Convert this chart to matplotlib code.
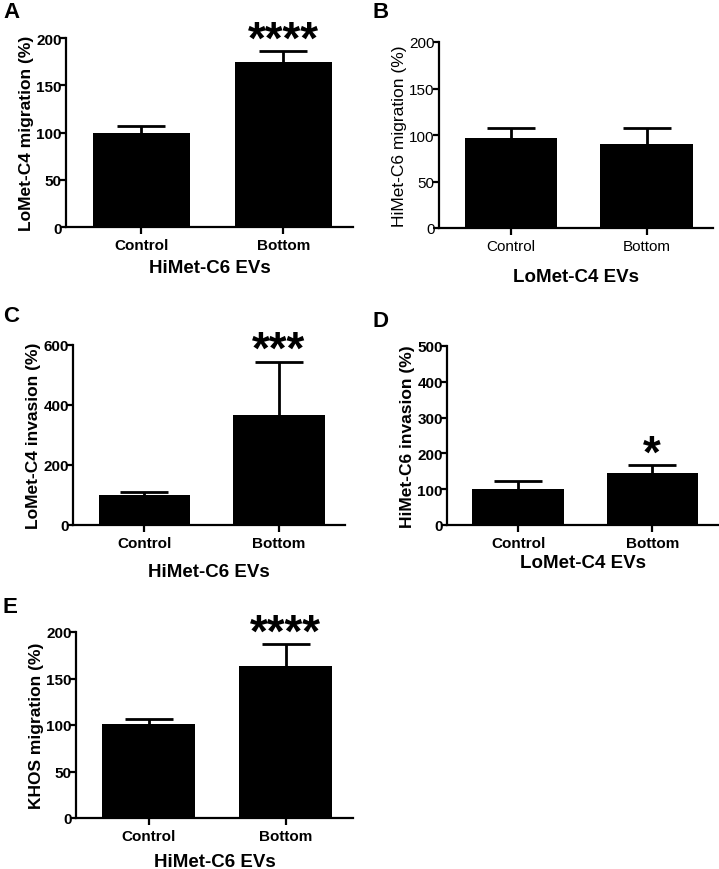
import matplotlib
matplotlib.use("Agg")
import matplotlib.pyplot as plt

plt.rcParams['font.family'] = ['Liberation Sans', 'DejaVu Sans']

groups = ['Control', 'Bottom']

# values (mean, upper error)
a_mean = [100, 175]
a_err = [7, 11]
b_mean = [97, 90]
b_err = [11, 17]
c_mean = [100, 368]
c_err = [10, 177]
d_mean = [100, 145]
d_err = [22, 22]
e_mean = [101, 163]
e_err = [5, 24]

W, H = 719, 870
fig = plt.figure(figsize=(W / 100, H / 100), dpi=100)


def px_axes(x0, x1, y_top, y_bot):
    return fig.add_axes([x0 / W, 1 - y_bot / H, (x1 - x0) / W, (y_bot - y_top) / H])


def panel(box, mean, err, ymax, ystep, ylabel, xlabel, stars, bold_ticks=True,
          xlab_pad=12, ylab_bold=True):
    ax = px_axes(*box)
    x = list(range(len(groups)))
    top = [m + e for m, e in zip(mean, err)]
    ax.bar(x, mean, width=0.68, color='black', linewidth=0)
    # upper error bars only, cap at the top end
    ax.vlines(x, mean, top, color='black', linewidth=2)
    ax.plot(x, top, linestyle='none', marker='_', markersize=34, markeredgewidth=2,
            color='black', clip_on=False)
    ax.set_xlim(-0.53, 1.49)
    ax.set_ylim(0, ymax)
    ax.set_yticks(list(range(0, ymax + 1, ystep)))
    ax.set_xticks(x)
    w = 'bold' if bold_ticks else 'normal'
    ax.set_xticklabels(groups, fontsize=11, fontweight=w)
    for t in ax.get_yticklabels():
        t.set_fontsize(11)
        t.set_fontweight(w)
    for s in ['top', 'right']:
        ax.spines[s].set_visible(False)
    for s in ['left', 'bottom']:
        ax.spines[s].set_linewidth(1.6)
    ax.tick_params(axis='y', width=1.6, length=4, direction='out', pad=-1)
    ax.tick_params(axis='x', width=1.6, length=5, direction='out', pad=3)
    ax.set_ylabel(ylabel, fontsize=12.5, fontweight='bold' if ylab_bold else 'normal',
                  labelpad=2)
    ax.set_xlabel(xlabel, fontsize=13.5, fontweight='bold', labelpad=xlab_pad)
    if stars:
        ax.annotate(stars, xy=(1, top[1]), xytext=(0, -1), textcoords='offset points',
                    ha='center', va='baseline', fontsize=33, fontweight='bold',
                    annotation_clip=False)
    return ax


panel((66, 353, 39, 228), a_mean, a_err, 200, 50, 'LoMet-C4 migration (%)',
      'HiMet-C6 EVs', '****', xlab_pad=5)
panel((439, 713, 43, 229), b_mean, b_err, 200, 50, 'HiMet-C6 migration (%)',
      'LoMet-C4 EVs', None, bold_ticks=False, xlab_pad=11, ylab_bold=False)
panel((73, 345, 346, 526), c_mean, c_err, 600, 200, 'LoMet-C4 invasion (%)',
      'HiMet-C6 EVs', '***', xlab_pad=9)
panel((447, 718, 347, 526), d_mean, d_err, 500, 100, 'HiMet-C6 invasion (%)',
      'LoMet-C4 EVs', '*', xlab_pad=3)
panel((76, 353, 633, 819), e_mean, e_err, 200, 50, 'KHOS migration (%)',
      'HiMet-C6 EVs', '****', xlab_pad=7)

for letter, lx, ly in [('A', 3, 12), ('B', 372, 12), ('C', 3, 317), ('D', 372, 322), ('E', 3, 608)]:
    fig.text(lx / W, 1 - ly / H, letter, fontsize=16, fontweight='bold', va='center', ha='left')

fig.savefig('out.png', dpi=100)
